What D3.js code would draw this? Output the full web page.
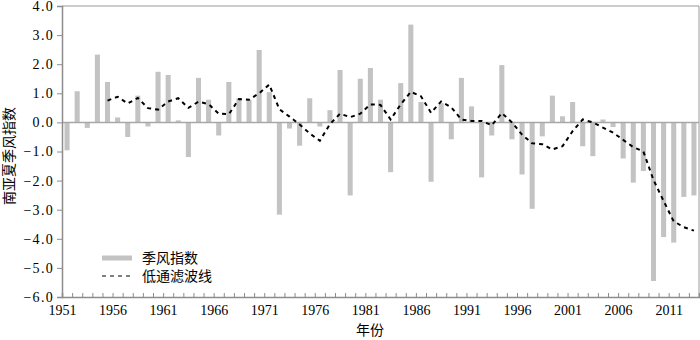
<!DOCTYPE html>
<html>
<head>
<meta charset="utf-8">
<script src="https://cdn.jsdelivr.net/npm/d3@7"></script>
<style>
  body { margin: 0; background: #fff; }
  svg text { font-family: "Liberation Serif", "Times New Roman", "DejaVu Serif", "Noto Sans CJK SC", serif !important; fill: #000; }
</style>
</head>
<body>
<div id="chart"></div>
<script>
// categories: years
var years = d3.range(1951, 2014);

// south asian summer monsoon index (bars)
var monsoonIndex = [
  -0.96, 1.07, -0.19, 2.33, 1.39, 0.17, -0.50, 0.92, -0.14, 1.74,
   1.63, 0.07, -1.19, 1.53, 0.78, -0.45, 1.39, 0.83, 0.77, 2.49,
   1.04, -3.17, -0.21, -0.80, 0.83, -0.14, 0.42, 1.80, -2.51, 1.50,
   1.87, 0.78, -1.71, 1.35, 3.36, 0.70, -2.04, 0.66, -0.58, 1.53,
   0.55, -1.89, -0.45, 1.97, -0.58, -1.79, -2.97, -0.48, 0.92, 0.21,
   0.70, -0.82, -1.16, 0.10, -0.16, -1.24, -2.07, -1.67, -5.45, -3.94,
  -4.13, -2.56, -2.51
];

// low-pass filtered line (no values for the first four years)
var lowPass = [
  null, null, null, null, 0.75, 0.88, 0.65, 0.84, 0.49, 0.44,
  0.72, 0.83, 0.50, 0.71, 0.63, 0.30, 0.28, 0.80, 0.78, 1.00,
  1.30, 0.45, 0.20, -0.07, -0.38, -0.63, -0.06, 0.30, 0.18, 0.30,
  0.62, 0.60, 0.10, 0.62, 1.05, 0.90, 0.33, 0.72, 0.52, 0.10,
  0.05, 0.05, -0.10, 0.32, 0.00, -0.42, -0.72, -0.75, -0.93, -0.82,
  -0.30, 0.10, 0.00, -0.18, -0.35, -0.60, -0.85, -1.00, -1.98, -2.70,
  -3.40, -3.60, -3.72
];

var yTicks = [-6, -5, -4, -3, -2, -1, 0, 1, 2, 3, 4];
var legendLabels = ["季风指数", "低通滤波线"];

var FONT = '"Liberation Serif", "Times New Roman", "DejaVu Serif", "Noto Sans CJK SC", serif';

var margin = {top: 6, right: 1, bottom: 43, left: 62},
    width = 700 - margin.left - margin.right,
    height = 340 - margin.top - margin.bottom;

var svg = d3.select("#chart")
  .append("svg")
    .attr("width", 700)
    .attr("height", 340)
  .append("g")
    .attr("transform", "translate(" + margin.left + "," + margin.top + ")");

var data = years.map(function(y, i) {
  return {year: y, value: monsoonIndex[i], filt: lowPass[i]};
});

// scales
var x = d3.scaleBand()
    .domain(years)
    .range([0, width])
    .paddingInner(0.5)
    .paddingOuter(0.25);

var xYear = d3.scaleLinear()
    .domain([1951, 2014])
    .range([0, width]);

var y = d3.scaleLinear()
    .domain([-6, 4])
    .range([height, 0]);

// frame: top and right border
svg.append("line")
    .attr("x1", 0).attr("x2", width)
    .attr("y1", 0).attr("y2", 0)
    .attr("stroke", "#bdbdbd").attr("stroke-width", 1.5);
svg.append("line")
    .attr("x1", width).attr("x2", width)
    .attr("y1", 0).attr("y2", height)
    .attr("stroke", "#9a9a9a").attr("stroke-width", 1);

// bars
svg.append("g")
  .selectAll("rect")
  .data(data)
  .enter().append("rect")
    .attr("x", function(d) { return x(d.year); })
    .attr("width", x.bandwidth())
    .attr("y", function(d) { return y(Math.max(0, d.value)); })
    .attr("height", function(d) { return Math.abs(y(d.value) - y(0)); })
    .attr("fill", "#c3c3c3");

// zero line
svg.append("line")
    .attr("x1", 0).attr("x2", width)
    .attr("y1", y(0)).attr("y2", y(0))
    .attr("stroke", "#a8a8a8").attr("stroke-width", 1.5);

// low pass line
var line = d3.line()
    .defined(function(d) { return d.filt !== null; })
    .x(function(d) { return x(d.year) + x.bandwidth() / 2; })
    .y(function(d) { return y(d.filt); });

svg.append("path")
    .datum(data)
    .attr("fill", "none")
    .attr("stroke", "#000")
    .attr("stroke-width", 2)
    .attr("stroke-dasharray", "4,4")
    .attr("d", line);

// Y axis
var yAxis = svg.append("g")
    .attr("font-family", FONT)
    .call(d3.axisLeft(y)
      .tickValues(yTicks)
      .tickSize(5)
      .tickPadding(3)
      .tickFormat(d3.format(".1f")));
yAxis.selectAll("text")
    .style("font-size", "14px")
    .style("letter-spacing", "1.3px")
    .style("font-family", FONT);
yAxis.selectAll("line").attr("stroke", "#8c8c8c");
yAxis.select(".domain").attr("stroke", "#8c8c8c").attr("stroke-width", 1.5);

// X axis
var xAxis = svg.append("g")
    .attr("font-family", FONT)
    .attr("transform", "translate(0," + height + ")")
    .call(d3.axisBottom(xYear)
      .tickValues(d3.range(1951, 2015))
      .tickSize(-4)
      .tickPadding(8)
      .tickFormat(function(d) { return (d - 1951) % 5 === 0 && d < 2014 ? d : ""; }));
xAxis.selectAll("text").style("font-size", "14px").style("font-family", FONT);
xAxis.selectAll("line").attr("stroke", "#8c8c8c");
xAxis.select(".domain").attr("stroke", "#8c8c8c").attr("stroke-width", 1.5);

// axis titles
svg.append("text")
    .attr("text-anchor", "middle")
    .attr("transform", "rotate(-90)")
    .attr("x", -150)
    .attr("y", -margin.left + 14)
    .style("font-size", "14px")
    .style("font-family", FONT)
    .text("南亚夏季风指数");

svg.append("text")
    .attr("text-anchor", "middle")
    .attr("x", 308)
    .attr("y", height + 38)
    .style("font-size", "14px")
    .style("font-family", FONT)
    .text("年份");

// legend
var lg = svg.append("g").attr("transform", "translate(40,252)");
lg.append("rect")
    .attr("x", 0).attr("y", -2.5)
    .attr("width", 30).attr("height", 5)
    .attr("fill", "#c3c3c3");
lg.append("text")
    .attr("x", 40).attr("y", 0)
    .attr("dy", "0.35em")
    .style("font-size", "14px")
    .style("font-family", FONT)
    .text(legendLabels[0]);
lg.append("line")
    .attr("x1", 0).attr("x2", 30)
    .attr("y1", 18).attr("y2", 18)
    .attr("stroke", "#000")
    .attr("stroke-width", 1.2)
    .attr("stroke-dasharray", "4,4");
lg.append("text")
    .attr("x", 40).attr("y", 18)
    .attr("dy", "0.35em")
    .style("font-size", "14px")
    .style("font-family", FONT)
    .text(legendLabels[1]);
</script>
</body>
</html>
